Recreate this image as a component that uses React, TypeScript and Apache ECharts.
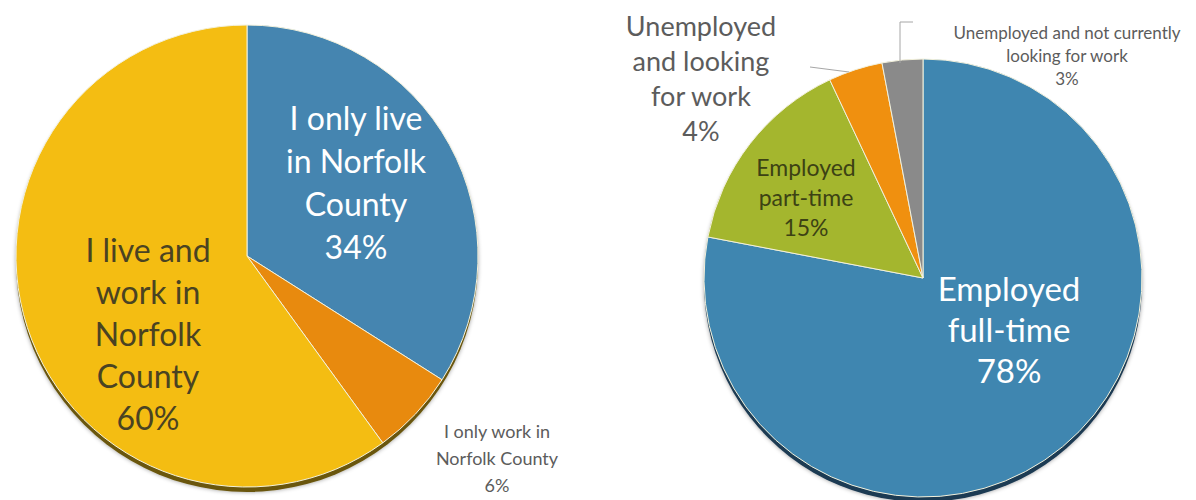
import React, { useEffect, useRef } from "react";
import * as echarts from "echarts";

// Where respondents live / work
const residenceLabels = ["I only live\nin Norfolk\nCounty", "I only work in\nNorfolk County", "I live and\nwork in\nNorfolk\nCounty"];
const residenceValues = [34, 6, 60];
const residenceColors = ["#4585b0", "#e88a0e", "#f4bd12"];

// Employment status
const employmentLabels = [
  "Employed\nfull-time",
  "Employed\npart-time",
  "Unemployed\nand looking\nfor work",
  "Unemployed and not currently\nlooking for work",
];
const employmentValues = [78, 15, 4, 3];
const employmentColors = ["#3f86b0", "#a4b62e", "#f0900f", "#8a8a8a"];

const FONT = "Lato, 'Open Sans', sans-serif";

// pie geometry (pixels)
const LEFT = { cx: 247, cy: 256, r: 231 };
const RIGHT = { cx: 923, cy: 278, r: 219 };

// label placement and style per slice
const residenceLabelStyle = [
  { x: 356, y: 182, size: 32, lh: 43, color: "#ffffff" },
  { x: 497, y: 458, size: 18, lh: 27, color: "#5c5c5c" },
  { x: 148, y: 333, size: 32, lh: 42, color: "#4a4322" },
];
const employmentLabelStyle = [
  { x: 1009, y: 329, size: 33, lh: 41, color: "#ffffff" },
  { x: 806, y: 197, size: 23, lh: 30, color: "#3c4214" },
  { x: 701, y: 78, size: 27, lh: 35, color: "#5c5c5c" },
  { x: 1067, y: 55, size: 17, lh: 23, color: "#5c5c5c" },
];

function buildData(labels: string[], values: number[], colors: string[], styles: any[]) {
  return values.map((v, i) => ({
    name: labels[i],
    value: v,
    itemStyle: { color: colors[i] },
    label: {
      color: styles[i].color,
      fontSize: styles[i].size,
      lineHeight: styles[i].lh,
    },
  }));
}

export default function App() {
  const ref = useRef<HTMLDivElement>(null);

  useEffect(() => {
    if (!ref.current) return;
    const chart = echarts.init(ref.current, undefined, { renderer: "svg" });

    const pieBase = (geo: { cx: number; cy: number; r: number }, styles: any[]) => ({
      type: "pie",
      center: [geo.cx, geo.cy],
      radius: [0, geo.r],
      startAngle: 90,
      clockwise: true,
      avoidLabelOverlap: false,
      silent: true,
      itemStyle: { borderColor: "#f3f1dc", borderWidth: 1 },
      label: {
        show: true,
        position: "inside",
        formatter: "{b}\n{c}%",
        fontFamily: FONT,
        align: "center",
      },
      labelLine: { show: false },
      labelLayout: (p: any) => ({
        x: styles[p.dataIndex].x,
        y: styles[p.dataIndex].y,
        align: "center",
        verticalAlign: "middle",
      }),
    });

    chart.setOption({
      animation: false,
      backgroundColor: "#ffffff",
      graphic: [
        // soft drop shadow below each pie
        {
          type: "circle",
          shape: { cx: LEFT.cx, cy: LEFT.cy + 5, r: LEFT.r },
          style: { fill: "#6a5710", shadowBlur: 4, shadowColor: "rgba(0,0,0,0.4)" },
          z: 0,
        },
        {
          type: "circle",
          shape: { cx: RIGHT.cx, cy: RIGHT.cy + 5, r: RIGHT.r },
          style: { fill: "#1d3a52", shadowBlur: 4, shadowColor: "rgba(0,0,0,0.4)" },
          z: 0,
        },
        // leader lines for the two small slices
        {
          type: "polyline",
          shape: { points: [[810, 67], [849, 72]] },
          style: { stroke: "#a6a6a6", lineWidth: 1, fill: "none" },
          z: 10,
        },
        {
          type: "polyline",
          shape: { points: [[900, 63], [900, 22], [913, 22]] },
          style: { stroke: "#a6a6a6", lineWidth: 1, fill: "none" },
          z: 10,
        },
      ],
      series: [
        {
          ...pieBase(LEFT, residenceLabelStyle),
          data: buildData(residenceLabels, residenceValues, residenceColors, residenceLabelStyle),
        },
        {
          ...pieBase(RIGHT, employmentLabelStyle),
          data: buildData(employmentLabels, employmentValues, employmentColors, employmentLabelStyle),
        },
      ],
    });

    return () => chart.dispose();
  }, []);

  return (
    <div
      ref={ref}
      style={{ position: "fixed", left: 0, top: 0, width: 1196, height: 500 }}
    />
  );
}
